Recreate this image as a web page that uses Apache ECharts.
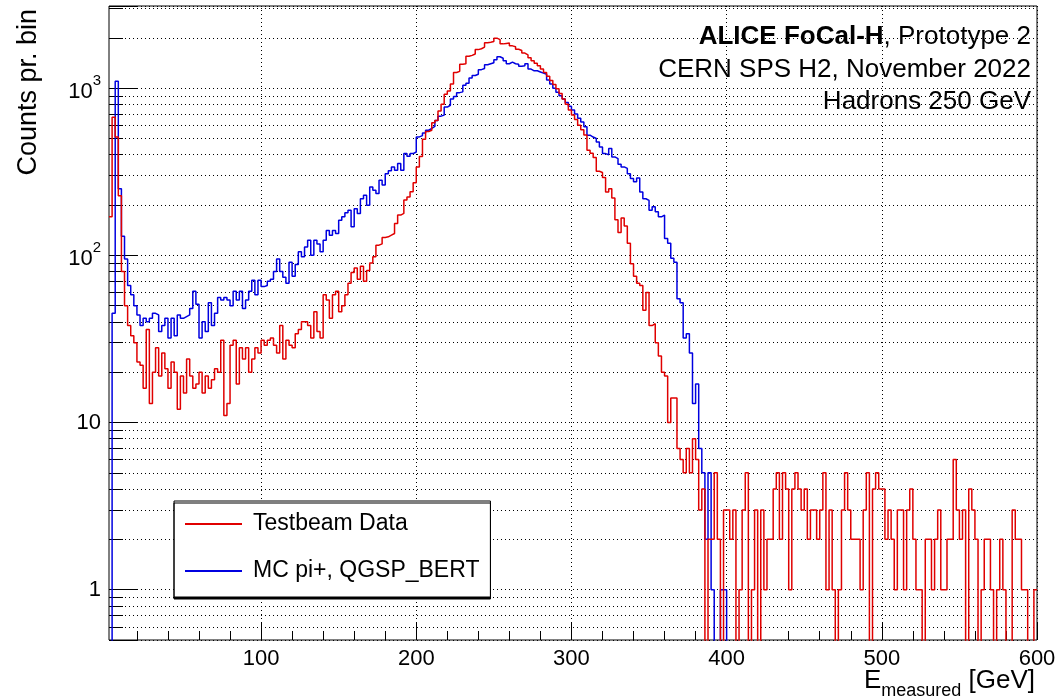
<!DOCTYPE html>
<html>
<head>
<meta charset="utf-8">
<script src="https://cdn.jsdelivr.net/npm/echarts@6/dist/echarts.min.js"></script>
<style>
  html, body { margin: 0; padding: 0; background: #fff; }
  #chart { width: 1061px; height: 700px; }
</style>
</head>
<body>
<div id="chart"></div>
<script>
// 2 GeV bins, first visible bin starts at 2 GeV
const binStart = 2
const binWidth = 2

// Testbeam data, counts per bin (bins 2-4, 4-6, ... 598-600)
const dataCounts = [
  170, 670, 510, 227, 80, 50, 38, 33, 30, 23,
  22, 16, 36, 13, 20, 28, 19, 26, 21, 16,
  23, 20, 12, 19, 15, 24, 19, 16, 17, 20,
  15, 19, 16, 18, 21, 20, 31, 11, 13, 29,
  31, 17, 28, 24, 28, 20, 24, 28, 26, 31,
  29, 31, 32, 29, 26, 38, 24, 31, 29, 28,
  34, 36, 40, 40, 38, 32, 46, 35, 32, 58,
  54, 42, 58, 61, 46, 50, 58, 68, 79, 84,
  72, 86, 70, 81, 90, 98, 115, 117, 128, 129,
  132, 135, 155, 174, 178, 214, 223, 240, 272, 338,
  390, 495, 550, 560, 620, 640, 730, 800, 920, 960,
  1060, 1240, 1260, 1390, 1400, 1550, 1570, 1600, 1700, 1720,
  1760, 1870, 1880, 1900, 1990, 1950, 1840, 1850, 1860, 1790,
  1770, 1710, 1680, 1620, 1580, 1520, 1460, 1410, 1360, 1300,
  1240, 1180, 1110, 1050, 990, 930, 860, 800, 740, 690,
  650, 600, 563, 525, 425, 408, 385, 318, 313, 292,
  239, 250, 220, 163, 137, 167, 150, 118, 89, 75,
  68, 66, 47, 60, 38, 39, 30, 25, 20, 19,
  10, 14, 14, 7, 6, 5, 7, 5, 8, 6,
  3, 4, 0, 2, 2, 5, 2,
  0, 3, 3, 2, 3, 0, 1, 3, 5, 0,
  1, 3, 0, 3, 1, 2, 2, 4, 5, 2,
  5, 4, 1, 4, 5, 4, 3, 4, 2, 3,
  3, 2, 3, 5, 1, 3, 1, 0, 1, 3,
  5, 3, 2, 2, 2, 1, 3, 5, 0, 4,
  5, 4, 4, 2, 3, 2, 1, 3, 3, 1,
  3, 4, 2, 1, 1, 0, 2, 2, 1, 2,
  3, 1, 1, 2, 2, 6, 3, 2, 3, 0,
  4, 3, 2, 0, 1, 2, 2, 1, 0, 1,
  2, 1, 0, 0, 3, 2, 2, 1, 1, 0, 0, 1
]

// MC pi+, QGSP_BERT, counts per bin
const mcCounts = [
  0, 45, 1100, 250, 130, 95, 66, 58, 50, 44,
  38, 42, 40, 42, 45, 44, 35, 38, 42, 32,
  42, 33, 44, 42, 43, 44, 48, 61, 51, 32,
  40, 35, 52, 38, 45, 56, 54, 56, 54, 50,
  61, 54, 61, 48, 54, 61, 71, 58, 71, 65,
  66, 70, 72, 80, 95, 80, 74, 68, 91, 75,
  88, 105, 98, 112, 123, 100, 123, 117, 105, 123,
  141, 132, 141, 135, 162, 170, 180, 186, 148, 190,
  178, 218, 229, 199, 256, 245, 234, 281, 263, 308,
  320, 338, 323, 354, 323, 406, 392, 406, 415, 511,
  520, 540, 560, 574, 590, 640, 680, 690, 770, 790,
  860, 890, 940, 950, 1040, 1070, 1150, 1190, 1210, 1290,
  1310, 1380, 1400, 1420, 1480, 1540, 1510, 1460, 1400, 1430,
  1400, 1390, 1350, 1360, 1400, 1300, 1270, 1270, 1250, 1230,
  1210, 1120, 1060, 1000, 945, 900, 860, 820, 780, 740,
  700, 660, 628, 587, 523, 510, 500, 477, 445, 406,
  400, 435, 388, 379, 350, 338, 331, 308, 288, 275,
  290, 239, 218, 213, 186, 195, 182, 170, 174, 126,
  118, 96, 91, 55, 52, 32, 34, 26, 13, 17,
  7, 5, 2, 5, 1, 0, 0, 1, 1,
  0, 0, 0, 0, 0, 0, 0, 0, 0, 0, 0, 0, 0, 0, 0, 0, 0, 0, 0, 0,
  0, 0, 0, 0, 0, 0, 0, 0, 0, 0, 0, 0, 0, 0, 0, 0, 0, 0, 0, 0,
  0, 0, 0, 0, 0, 0, 0, 0, 0, 0, 0, 0, 0, 0, 0, 0, 0, 0, 0, 0,
  0, 0, 0, 0, 0, 0, 0, 0, 0, 0, 0, 0, 0, 0, 0, 0, 0, 0, 0, 0,
  0, 0, 0, 0, 0, 0, 0, 0, 0, 0, 0, 0, 0, 0, 0, 0, 0, 0, 0, 0
]

const xMajorTicks = [100, 200, 300, 400, 500, 600]
const xMinorTicks = [20, 40, 60, 80, 120, 140, 160, 180, 220, 240, 260, 280,
  320, 340, 360, 380, 420, 440, 460, 480, 520, 540, 560, 580]
const yMinorTicks = [0.6, 0.7, 0.8, 0.9, 2, 3, 4, 5, 6, 7, 8, 9,
  20, 30, 40, 50, 60, 70, 80, 90, 200, 300, 400, 500, 600, 700, 800, 900, 2000, 3000]
const yMin = 0.5
const yMax = 3100

const font = "'Liberation Sans', Arial, Helvetica, sans-serif"
const gridDots = { type: [1, 3], color: '#000', width: 1 }
const tickLine = { color: '#000', width: 1 }

// ROOT-style histogram outline: one point per bin low edge, closed at the upper edge.
// empty bins are pushed below the log axis so the outline drops out of the frame
function toSteps(counts) {
  const pts = counts.map((v, i) => [binStart + i * binWidth, v > 0 ? v : 0.05])
  pts.push([binStart + counts.length * binWidth, pts[pts.length - 1][1]])
  return pts
}

function logLabel(v) {
  const k = Math.round(Math.log10(v))
  if (Math.abs(v - Math.pow(10, k)) > 1e-6 * v) return ''
  if (k === 0) return '1'
  if (k === 1) return '10'
  return '{b|10}{s|' + k + '}'
}

const chart = echarts.init(document.getElementById('chart'))

chart.setOption({
  animation: false,
  backgroundColor: '#fff',
  textStyle: { fontFamily: font },
  grid: {
    left: 109, right: 24, top: 6, bottom: 60,
    show: true, borderColor: '#000', borderWidth: 1,
    containLabel: false, outerBoundsMode: 'none'
  },
  xAxis: [
    {
      type: 'value', min: 2, max: 600, position: 'bottom',
      axisLine: { show: false, onZero: false },
      axisTick: { show: true, inside: true, length: 17, customValues: xMajorTicks, lineStyle: tickLine },
      axisLabel: { customValues: xMajorTicks, margin: 8, fontSize: 22, color: '#000', fontFamily: font },
      splitLine: { show: true, lineStyle: gridDots }
    },
    {
      type: 'value', min: 2, max: 600, position: 'bottom',
      axisLine: { show: false, onZero: false },
      axisTick: { show: true, inside: true, length: 9, customValues: xMinorTicks, lineStyle: tickLine },
      axisLabel: { show: false },
      splitLine: { show: false }
    }
  ],
  yAxis: [
    {
      type: 'log', logBase: 10, min: yMin, max: yMax, position: 'left',
      axisLine: { show: false, onZero: false },
      axisTick: { show: true, inside: true, length: 28, lineStyle: tickLine },
      axisLabel: {
        margin: 8, fontSize: 22, color: '#000', fontFamily: font,
        formatter: logLabel,
        rich: {
          b: { fontSize: 22, fontFamily: font, color: '#000', lineHeight: 30, verticalAlign: 'bottom' },
          s: { fontSize: 15, fontFamily: font, color: '#000', lineHeight: 30, verticalAlign: 'top' }
        }
      },
      splitLine: { show: true, lineStyle: gridDots }
    },
    {
      // decade subdivisions (2..9 x 10^k), placed on a log-space helper axis
      type: 'value', min: Math.log10(yMin), max: Math.log10(yMax), position: 'left',
      axisLine: { show: false, onZero: false },
      axisTick: { show: true, inside: true, length: 14, customValues: yMinorTicks.map(Math.log10), lineStyle: tickLine },
      axisLabel: { show: false },
      splitLine: { show: true, lineStyle: gridDots }
    }
  ],
  legend: {
    orient: 'vertical', left: 174, top: 501,
    padding: [10, 11, 13, 11], itemGap: 21, itemWidth: 57, itemHeight: 2,
    icon: 'rect',
    backgroundColor: '#fff', borderColor: '#000', borderWidth: 1,
    shadowColor: '#000', shadowOffsetY: 2, shadowOffsetX: 0, shadowBlur: 0,
    selectedMode: false,
    textStyle: { fontSize: 23, fontFamily: font, color: '#000', lineHeight: 26, padding: [0, 0, 0, 6] },
    data: ['Testbeam Data', 'MC pi+, QGSP_BERT']
  },
  graphic: [
    {
      type: 'text', x: 29, y: 9, rotation: Math.PI / 2,
      style: { text: 'Counts pr. bin', font: '27px ' + font, fill: '#000', align: 'right', verticalAlign: 'middle' }
    },
    {
      type: 'text',
      style: {
        text: '{e|E}{s|measured}{e| [GeV]}', x: 1035, y: 684, align: 'right', verticalAlign: 'middle',
        rich: {
          e: { fontSize: 26, fontFamily: font, fill: '#000', lineHeight: 32, verticalAlign: 'top' },
          s: { fontSize: 18, fontFamily: font, fill: '#000', lineHeight: 32, verticalAlign: 'bottom' }
        }
      }
    },
    {
      type: 'text',
      style: {
        text: '{b|ALICE FoCal-H}{n|, Prototype 2}', x: 1031, y: 37, align: 'right', verticalAlign: 'middle',
        rich: {
          b: { fontSize: 26, fontWeight: 'bold', fontFamily: font, fill: '#000' },
          n: { fontSize: 26, fontFamily: font, fill: '#000' }
        }
      }
    },
    {
      type: 'text',
      style: { text: 'CERN SPS H2, November 2022', x: 1031, y: 70, align: 'right', verticalAlign: 'middle', font: '26px ' + font, fill: '#000' }
    },
    {
      type: 'text',
      style: { text: 'Hadrons 250 GeV', x: 1031, y: 102, align: 'right', verticalAlign: 'middle', font: '26px ' + font, fill: '#000' }
    }
  ],
  series: [
    {
      name: 'Testbeam Data', type: 'line', step: 'end',
      xAxisIndex: 0, yAxisIndex: 0,
      data: toSteps(dataCounts),
      symbol: 'none', showSymbol: false, clip: true, silent: true, z: 3,
      color: '#e00000',
      lineStyle: { color: '#e00000', width: 1.5 }
    },
    {
      name: 'MC pi+, QGSP_BERT', type: 'line', step: 'end',
      xAxisIndex: 0, yAxisIndex: 0,
      data: toSteps(mcCounts),
      symbol: 'none', showSymbol: false, clip: true, silent: true, z: 2,
      color: '#0000e0',
      lineStyle: { color: '#0000e0', width: 1.5 }
    }
  ]
})
</script>
</body>
</html>
